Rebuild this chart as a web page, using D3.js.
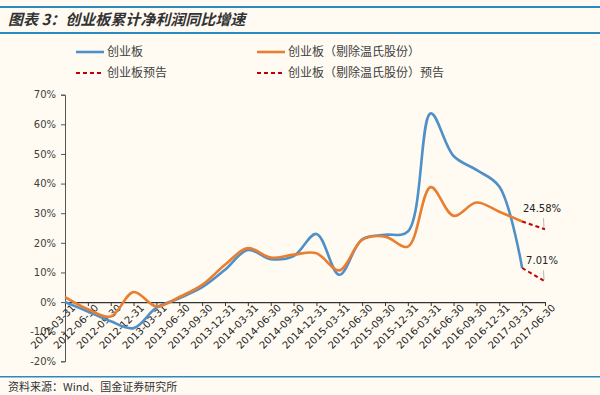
<!DOCTYPE html>
<html>
<head>
<meta charset="utf-8">
<script src="https://cdn.jsdelivr.net/npm/d3@7"></script>
<style>
  body { margin: 0; background: #fffbf2; }
  svg { display: block; }
</style>
</head>
<body>
<div id="canvas"></div>
<script>
"use strict"

/* Data */
let dates = ["2012-03-31", "2012-06-30", "2012-09-30", "2012-12-31", "2013-03-31", "2013-06-30",
    "2013-09-30", "2013-12-31", "2014-03-31", "2014-06-30", "2014-09-30", "2014-12-31",
    "2015-03-31", "2015-06-30", "2015-09-30", "2015-12-31", "2016-03-31", "2016-06-30",
    "2016-09-30", "2016-12-31", "2017-03-31", "2017-06-30"];

// 创业板 (actual, up to 2017-03-31), percent
let gem = [0, -3.2, -6.5, -8.8, -1.9, 1.3, 5.0, 10.9, 17.6, 14.5, 15.5, 23.0,
    9.2, 21.2, 22.7, 23.8, 63.7, 49.3, 44.6, 39.0, 11.5];
// 创业板（剔除温氏股份）
let gemEx = [1.7, -2.4, -4.9, 3.4, -1.5, 1.7, 5.8, 12.6, 18.2, 15.0, 16.0, 16.5,
    10.7, 21.0, 22.1, 18.7, 38.8, 29.1, 33.6, 30.5, 27.2];
// forecasts for 2017-06-30
let gemForecast = 7.01;
let gemExForecast = 24.58;

let yTicks = [-20, -10, 0, 10, 20, 30, 40, 50, 60, 70];

/* Drawing config */
let svgWidth = 600;
let svgHeight = 395;
let blue = "#4f90c9";
let orange = "#e97e30";
let red = "#c00000";
let textColor = "#404040";

let svg = d3.select("#canvas")
    .append("svg")
    .attr("width", svgWidth)
    .attr("height", svgHeight)
    .style("font-family", "'DejaVu Sans', sans-serif");

svg.append("rect")
    .attr("width", svgWidth)
    .attr("height", svgHeight)
    .attr("fill", "#fffbf2");

/* Header and footer rules */
svg.append("rect").attr("x", 0).attr("y", 6).attr("width", svgWidth).attr("height", 2).attr("fill", "#2a8ac0");
svg.append("rect").attr("x", 0).attr("y", 32).attr("width", svgWidth).attr("height", 2).attr("fill", "#2a8ac0");
svg.append("rect").attr("x", 0).attr("y", 376).attr("width", svgWidth).attr("height", 1.5).attr("fill", "#2a8ac0");

svg.append("text")
    .attr("x", 8)
    .attr("y", 25)
    .attr("font-family", "'Noto Sans CJK SC', sans-serif")
    .attr("font-size", 15)
    .attr("font-weight", "bold")
    .attr("font-style", "italic")
    .attr("fill", "#333")
    .text("图表 3：创业板累计净利润同比增速");

svg.append("text")
    .attr("x", 8)
    .attr("y", 391)
    .attr("font-family", "'Noto Sans CJK SC', sans-serif")
    .attr("font-size", 11)
    .attr("fill", "#333")
    .text("资料来源：Wind、国金证券研究所");

/* Scales */
let xScale = d3.scalePoint()
    .domain(dates)
    .range([65, 545]);

let yScale = d3.scaleLinear()
    .domain([-20, 70])
    .range([361.3, 94.7]);

/* Y axis */
let yAxis = svg.append("g")
    .attr("transform", "translate(65,0)")
    .call(d3.axisLeft(yScale).tickValues(yTicks).tickSize(4).tickFormat(d => d + "%"));
yAxis.select(".domain").attr("stroke", "#555");
yAxis.selectAll(".tick line").attr("stroke", "#555");
yAxis.selectAll("text")
    .attr("font-size", 10)
    .attr("font-family", "'DejaVu Sans', sans-serif")
    .attr("fill", textColor)
    .attr("x", -9);

/* X axis at 0% */
let xAxis = svg.append("g")
    .attr("transform", "translate(0," + yScale(0) + ")")
    .call(d3.axisBottom(xScale).tickSize(4).tickSizeOuter(0));
xAxis.select(".domain").attr("stroke", "#333").attr("stroke-width", 1.2);
xAxis.selectAll(".tick line").attr("stroke", "#333");
xAxis.selectAll("text")
    .attr("font-size", 10)
    .attr("font-family", "'DejaVu Sans', sans-serif")
    .attr("fill", "#222")
    .attr("text-anchor", "end")
    .attr("x", 3)
    .attr("y", 5)
    .attr("dy", "0.7em")
    .attr("transform", "rotate(-45)");

/* Lines */
let line = d3.line()
    .x((d, i) => xScale(dates[i]))
    .y(d => yScale(d))
    .curve(d3.curveCatmullRom.alpha(0.5));

svg.append("path")
    .datum(gem)
    .attr("fill", "none")
    .attr("stroke", blue)
    .attr("stroke-width", 2.6)
    .attr("d", line);

svg.append("path")
    .datum(gemEx)
    .attr("fill", "none")
    .attr("stroke", orange)
    .attr("stroke-width", 2.6)
    .attr("d", line);

/* Forecast dashed segments */
let last = dates.length - 1;
let forecasts = [
    {from: gem[last - 1], to: gemForecast},
    {from: gemEx[last - 1], to: gemExForecast}
];
svg.selectAll(".forecast")
    .data(forecasts)
    .join("line")
    .attr("class", "forecast")
    .attr("x1", xScale(dates[last - 1]))
    .attr("y1", d => yScale(d.from))
    .attr("x2", xScale(dates[last]))
    .attr("y2", d => yScale(d.to))
    .attr("stroke", red)
    .attr("stroke-width", 2)
    .attr("stroke-dasharray", "4,3");

/* Forecast labels with leader lines */
svg.selectAll(".flabel")
    .data(forecasts)
    .join("text")
    .attr("class", "flabel")
    .attr("x", xScale(dates[last]) - 3)
    .attr("y", d => yScale(d.to) - 17)
    .attr("text-anchor", "middle")
    .attr("font-size", 10)
    .attr("fill", "#222")
    .text(d => d.to.toFixed(2) + "%");

svg.selectAll(".leader")
    .data(forecasts)
    .join("line")
    .attr("class", "leader")
    .attr("x1", xScale(dates[last]) - 1.5)
    .attr("y1", d => yScale(d.to) - 11)
    .attr("x2", xScale(dates[last]) - 1)
    .attr("y2", d => yScale(d.to) - 1)
    .attr("stroke", "#999")
    .attr("stroke-width", 0.7);

/* Legend */
let legend = [
    {label: "创业板", color: blue, dash: null, x: 76, y: 52},
    {label: "创业板（剔除温氏股份）", color: orange, dash: null, x: 257, y: 52},
    {label: "创业板预告", color: red, dash: "4,3", x: 76, y: 73},
    {label: "创业板（剔除温氏股份）预告", color: red, dash: "4,3", x: 257, y: 73}
];
let lg = svg.selectAll(".legend")
    .data(legend)
    .join("g")
    .attr("class", "legend")
    .attr("transform", d => "translate(" + d.x + "," + d.y + ")");
lg.append("line")
    .attr("x1", 0)
    .attr("x2", 28)
    .attr("stroke", d => d.color)
    .attr("stroke-width", d => d.dash ? 2 : 2.6)
    .attr("stroke-dasharray", d => d.dash);
lg.append("text")
    .attr("x", 31)
    .attr("dy", "0.35em")
    .attr("font-family", "'Noto Sans CJK SC', sans-serif")
    .attr("font-size", 12)
    .attr("fill", textColor)
    .text(d => d.label);
</script>
</body>
</html>
